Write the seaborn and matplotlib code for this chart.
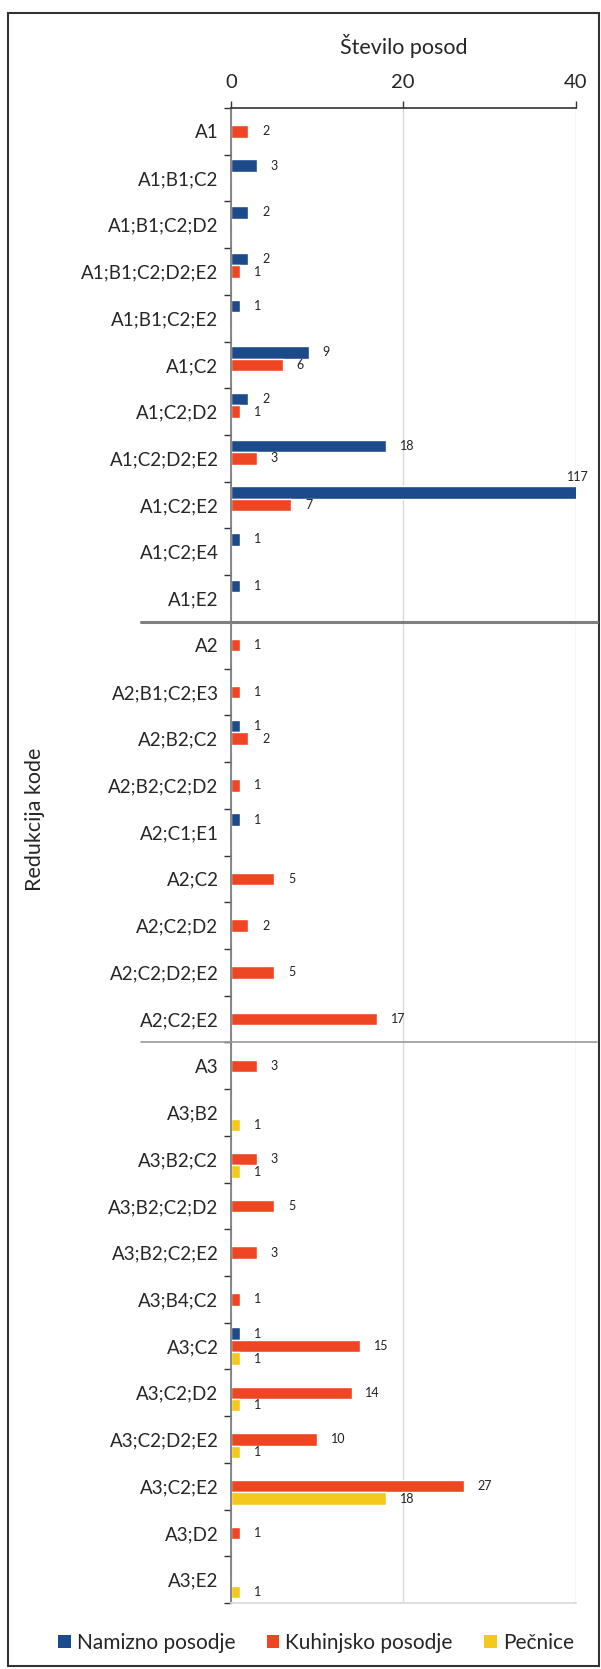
"""Horizontal grouped bars: number of vessels per reduction code, split by vessel type."""

import matplotlib.pyplot as plt
import matplotlib.transforms as mtransforms
import pandas as pd
import seaborn as sns
from matplotlib.lines import Line2D
from matplotlib.patches import Patch, Rectangle

CODES = [
    "A1", "A1;B1;C2", "A1;B1;C2;D2", "A1;B1;C2;D2;E2", "A1;B1;C2;E2", "A1;C2",
    "A1;C2;D2", "A1;C2;D2;E2", "A1;C2;E2", "A1;C2;E4", "A1;E2",
    "A2", "A2;B1;C2;E3", "A2;B2;C2", "A2;B2;C2;D2", "A2;C1;E1", "A2;C2",
    "A2;C2;D2", "A2;C2;D2;E2", "A2;C2;E2",
    "A3", "A3;B2", "A3;B2;C2", "A3;B2;C2;D2", "A3;B2;C2;E2", "A3;B4;C2",
    "A3;C2", "A3;C2;D2", "A3;C2;D2;E2", "A3;C2;E2", "A3;D2", "A3;E2",
]
NAMIZNO = [0, 3, 2, 2, 1, 9, 2, 18, 117, 1, 1,
           0, 0, 1, 0, 1, 0, 0, 0, 0,
           0, 0, 0, 0, 0, 0, 1, 0, 0, 0, 0, 0]
KUHINJSKO = [2, 0, 0, 1, 0, 6, 1, 3, 7, 0, 0,
             1, 1, 2, 1, 0, 5, 2, 5, 17,
             3, 0, 3, 5, 3, 1, 15, 14, 10, 27, 1, 0]
PECNICE = [0, 0, 0, 0, 0, 0, 0, 0, 0, 0, 0,
           0, 0, 0, 0, 0, 0, 0, 0, 0,
           0, 1, 1, 0, 0, 0, 1, 1, 1, 18, 0, 1]
SERIES = ["Namizno posodje", "Kuhinjsko posodje", "Pečnice"]
COLORS = ["#1D4A8A", "#EE4623", "#F5C81E"]
GROUP_BREAKS = [10.5, 19.5]  # between A1/A2 and A2/A3 blocks
XMAX = 40

W, H = 601, 1669

rows = []
for series, values in zip(SERIES, [NAMIZNO, KUHINJSKO, PECNICE]):
    for code, v in zip(CODES, values):
        rows.append({"koda": code, "vrsta": series, "stevilo": v})
df = pd.DataFrame(rows)

sns.set_theme(style="white")
plt.rcParams["font.family"] = ["Lato", "DejaVu Sans"]

fig = plt.figure(figsize=(W / 100, H / 100), dpi=100)
ax = fig.add_axes([231 / W, 1 - 1603 / H, (575.5 - 231) / W, (1603 - 108) / H])

sns.barplot(
    data=df, y="koda", x="stevilo", hue="vrsta", order=CODES, hue_order=SERIES,
    palette=COLORS, orient="h", width=0.8, errorbar=None, legend=False,
    saturation=1, ax=ax,
)

ax.set_xlim(0, XMAX)
ax.set_xticks([0, 20, 40])
ax.xaxis.tick_top()
ax.xaxis.set_label_position("top")
ax.set_xlabel("Število posod", fontsize=15.5, labelpad=15)
ax.set_ylabel("")
ax.tick_params(axis="x", which="major", direction="out", length=5, width=1,
               color="#333333", labelsize=14.5, pad=7)
ax.tick_params(axis="y", which="major", length=0, labelsize=13.5, pad=9)
ax.set_yticks([i + 0.5 for i in range(-1, len(CODES))], minor=True)
ax.tick_params(axis="y", which="minor", direction="out", length=5, width=1,
               color="#333333", left=True)
ax.grid(axis="x", color="#d9d9d9", linewidth=1)
ax.set_axisbelow(True)

ax.spines["top"].set_color("#333333")
ax.spines["top"].set_linewidth(1.2)
ax.spines["left"].set_color("#777777")
ax.spines["bottom"].set_color("#d9d9d9")
ax.spines["right"].set_visible(False)

# value labels; the one bar past the axis limit gets its label at the cut-off
for container in ax.containers:
    for rect in container:
        v = rect.get_width()
        if v <= 0:
            continue
        yc = rect.get_y() + rect.get_height() / 2
        if v > XMAX:
            ax.annotate(f"{int(round(v))}", (XMAX, yc), xytext=(2, 7),
                        textcoords="offset points", ha="center", va="bottom",
                        fontsize=9, color="#222222", annotation_clip=False)
        else:
            ax.annotate(f"{int(round(v))}", (v, yc), xytext=(10, 0),
                        textcoords="offset points", ha="left", va="center",
                        fontsize=9, color="#222222")

# separators between the A1 / A2 / A3 blocks, running past the plot area
blend = mtransforms.blended_transform_factory(fig.transFigure, ax.transData)
for yb, lw, col in zip(GROUP_BREAKS, [2.2, 1.2], ["#7f7f7f", "#9a9a9a"]):
    fig.add_artist(Line2D([141 / W, 597 / W], [yb, yb], transform=blend,
                          color=col, linewidth=lw))

fig.text(35 / W, 1 - 819 / H, "Redukcija kode", rotation=90, ha="center",
         va="center", fontsize=15.5)

handles = [Patch(facecolor=c, edgecolor="none") for c in COLORS]
fig.legend(handles, SERIES, loc="center", bbox_to_anchor=(316 / W, 1 - 1643 / H),
           ncol=3, frameon=False, fontsize=15, handlelength=0.6,
           handleheight=0.6, handletextpad=0.3, columnspacing=1.5)

fig.add_artist(Rectangle((8 / W, 1 - 1666 / H), (599 - 8) / W, (1666 - 13) / H,
                         transform=fig.transFigure, fill=False,
                         edgecolor="#333333", linewidth=1.5))

fig.savefig("out.png", dpi=100)
